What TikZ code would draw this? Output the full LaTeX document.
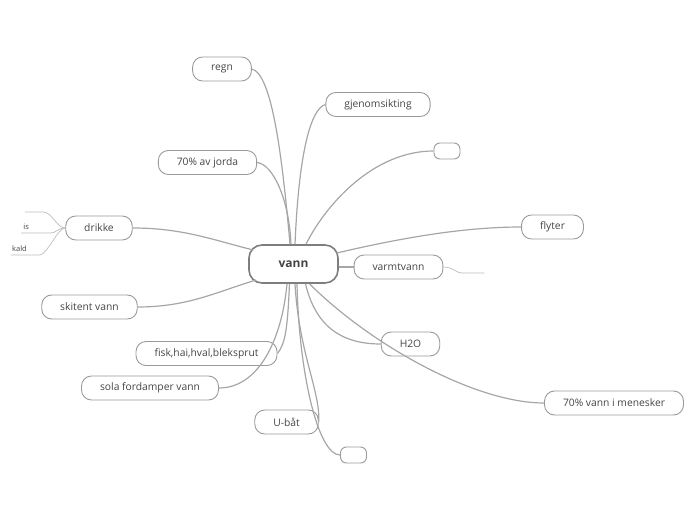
\documentclass[tikz,border=0pt]{standalone}
\usepackage{fontspec}
\setmainfont{Open Sans}
\usepackage{tikz}
\usetikzlibrary{positioning, calc}
\definecolor{ink}{HTML}{444444}
\definecolor{rim}{HTML}{9A9A9A}
\definecolor{rootrim}{HTML}{7E7E7E}
\definecolor{wire}{HTML}{A6A6A6}
\tikzset{
  root/.style  = {rectangle, rounded corners=13pt, draw=rootrim, line width=1.6pt,
                  minimum width=89pt, minimum height=38pt,
                  font=\fontsize{12}{14}\selectfont\bfseries, text=ink},
  topic/.style = {rectangle, rounded corners=10pt, draw=rim, line width=0.9pt,
                  minimum height=24pt, inner xsep=18.5pt,
                  font=\fontsize{10.3}{12}\selectfont, text=ink},
  blank/.style = {rectangle, rounded corners=6pt, draw=rim, line width=0.9pt,
                  minimum width=26pt, minimum height=16pt, inner sep=0pt},
  leaf/.style  = {anchor=south west, inner sep=1pt, minimum height=13pt, align=left,
                  font=\fontsize{7.5}{9}\selectfont, text=ink},
  link/.style  = {draw=wire, line width=1.2pt},
  twig/.style  = {draw=wire!75, line width=0.7pt},
}

\begin{document}
\begin{tikzpicture}[x=1pt, y=1pt]
  \useasboundingbox (0,0) rectangle (696,520);

  % ----- centre -----
  \node[root] (vann) at (293.5,256) {vann};

  % ----- topics above -----
  \node[topic] (regn)   at (222,451)   {regn};
  \node[topic] (sikt)   at (378,415.5) {gjenomsikting};
  \node[blank] (tomopp) at (447,369)   {};
  \node[topic] (jorda)  at (207.5,357.5) {70\% av jorda};
  \node[topic] (drikke) at (99,292)    {drikke};
  \node[topic] (flyter) at (552.5,293) {flyter};

  % ----- topics below -----
  \node[topic] (varmt)   at (398.5,253) {varmtvann};
  \node[topic] (skitent) at (89.5,213)  {skitent vann};
  \node[topic] (htwoo)   at (410.5,176) {H2O};
  \node[topic] (fisk)    at (206.5,166.5) {fisk,hai,hval,bleksprut};
  \node[topic] (sola)    at (150,132)   {sola fordamper vann};
  \node[topic] (mennesk) at (614,117)   {70\% vann i menesker};
  \node[topic] (ubat)    at (286.5,98)  {U-båt};
  \node[blank] (tomned)  at (353.5,65)  {};

  % ----- small topics -----
  \node[leaf, text width=16pt] (dtom) at (25,308) {};
  \node[leaf, text width=26pt] (is)   at (21,287) {\,is};
  \node[leaf, text width=26pt] (kald) at (11,265) {kald};
  \node[leaf, text width=19pt] (vtom) at (463,247) {};

  % ----- connectors from vann -----
  \draw[link] ([xshift=-3.5pt]vann.north) .. controls +(-8,90) and +(20,-5) .. (regn.east);
  \draw[link] ([xshift=-2.5pt]vann.north) .. controls +(-2,45) and +(16,-2) .. (jorda.east);
  \draw[link] ([xshift=1.5pt]vann.north) .. controls +(4,95) and +(-14,-4) .. (sikt.west);
  \draw[link] ([xshift=12.5pt]vann.north) .. controls +(20,40) and +(-60,0) .. (tomopp.west);
  \draw[link] ([xshift=-2pt,yshift=11pt]vann.east) .. controls +(60,14) and +(-60,0) .. (flyter.west);
  \draw[link] ([xshift=5pt,yshift=14pt]vann.west) .. controls +(-40,10) and +(50,0) .. (drikke.east);
  \draw[link] ([xshift=8pt,yshift=-16pt]vann.west) .. controls +(-40,-12) and +(50,0) .. (skitent.east);
  \draw[link] (vann.east |- varmt.west) -- (varmt.west);
  \draw[link] ([xshift=12pt]vann.south) .. controls +(10,-42) and +(-40,0) .. (htwoo.west);
  \draw[link] ([xshift=16pt]vann.south) .. controls +(60,-60) and +(-70,0) .. (mennesk.west);
  \draw[link] ([xshift=-4pt]vann.south) .. controls +(-2,-45) and +(8,10) .. (fisk.east);
  \draw[link] ([xshift=-6.5pt]vann.south) .. controls +(-5,-55) and +(40,0) .. (sola.east);
  \draw[link] ([xshift=1.5pt]vann.south) .. controls +(4,-70) and +(2,30) .. (ubat.east);
  \draw[link] ([xshift=3.5pt]vann.south) .. controls +(2,-90) and +(-22,0) .. (tomned.west);

  % ----- twigs -----
  \foreach \leafname in {dtom, is, kald}
    {\draw[twig] (\leafname.south west) -- (\leafname.south east)
       .. controls +(8,0) and +(-8,0) .. (drikke.west);}
  \draw[twig] (varmt.east) .. controls +(10,0) and +(-8,0) .. (vtom.south west) -- (vtom.south east);

\end{tikzpicture}
\end{document}
